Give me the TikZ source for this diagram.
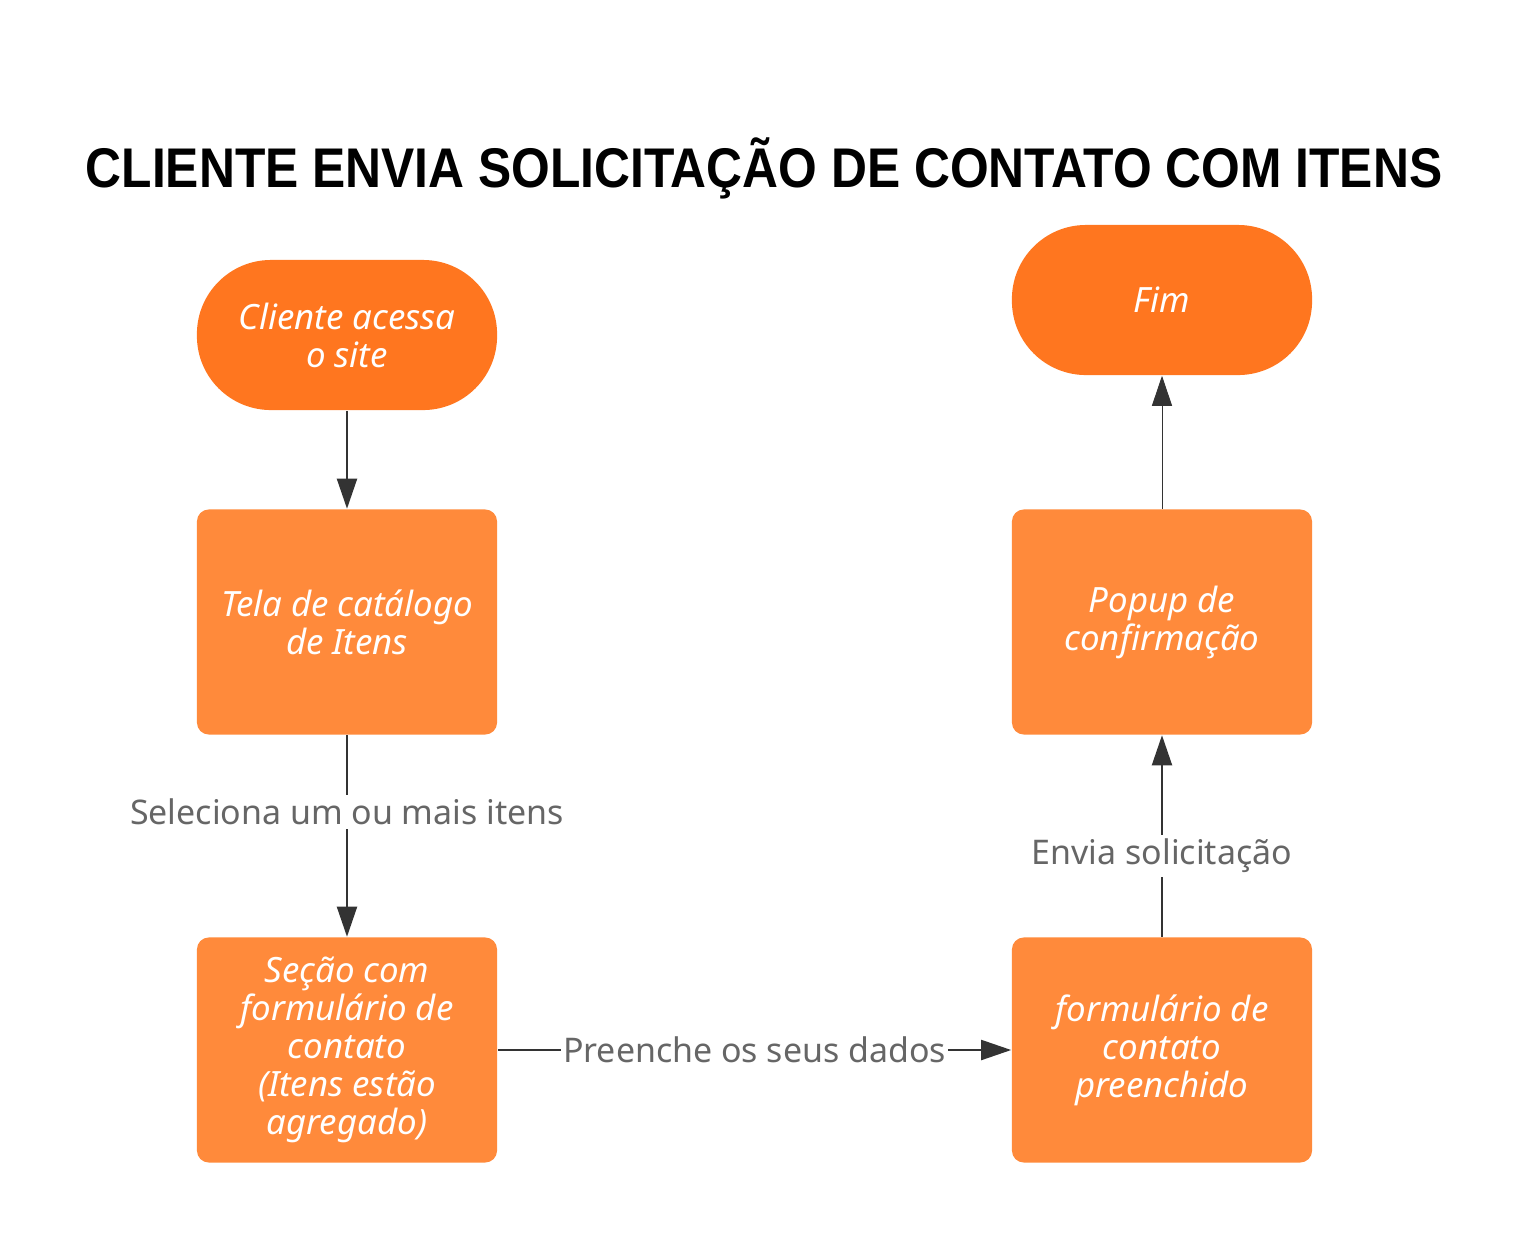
\documentclass[tikz,border=0pt]{standalone}
\usepackage{fontspec}
\setmainfont{Noto Sans}
\newfontfamily\titlefont{Liberation Sans}
\usetikzlibrary{arrows.meta}
\definecolor{termorange}{HTML}{FF761F}
\definecolor{boxorange}{HTML}{FF8A3B}
\definecolor{linegray}{HTML}{333333}
\definecolor{labelgray}{HTML}{666666}
\begin{document}
\begin{tikzpicture}[x = 0.01cm, y = -0.01cm]
\tikzstyle{TerminalStyle}=[
shape = rectangle,
fill = termorange,
rounded corners = 0.74cm,
minimum width = 3cm,
minimum height = 1.5cm,
align = center,
text = white,
font = \itshape\fontsize{9.9}{10.8}\selectfont]
\tikzstyle{StepStyle}=[
shape = rectangle,
fill = boxorange,
rounded corners = 0.12cm,
minimum width = 3cm,
minimum height = 2.25cm,
align = center,
text = white,
font = \itshape\fontsize{9.9}{10.8}\selectfont]
\tikzstyle{post}=[
draw = linegray,
line width = 0.2mm,
-{Triangle[length = 0.3cm, width = 0.2cm]}]
\tikzstyle{EdgeLabel}=[
fill = white,
text = labelgray,
inner xsep = 0.2mm,
inner ysep = 0.4mm,
font = \fontsize{9.65}{10.8}\selectfont]
\useasboundingbox (0,0) rectangle (1538,1238);
\node[font = \titlefont\bfseries\fontsize{15.9}{19}\selectfont, xscale = 0.89, transform shape] (title) at (764,168) {CLIENTE ENVIA SOLICITAÇÃO DE CONTATO COM ITENS};
\node[TerminalStyle] (start) at (347,335) {Cliente acessa\\o site};
\node[StepStyle] (catalog) at (347,622) {Tela de catálogo\\de Itens};
\node[StepStyle] (section) at (347,1050) {Seção com\\formulário de\\contato\\(Itens estão\\agregado)};
\node[StepStyle] (filled) at (1162,1050) {formulário de\\contato\\preenchido};
\node[StepStyle] (popup) at (1162,622) {Popup de\\confirmação};
\node[TerminalStyle] (end) at (1162,300) {Fim};
\draw[post] (start) -- (catalog);
\draw[post] (catalog) -- node[EdgeLabel, pos = 0.38] {Seleciona um ou mais itens} (section);
\draw[post] (section) -- node[EdgeLabel, pos = 0.5] {Preenche os seus dados} (filled);
\draw[post] (filled) -- node[EdgeLabel, pos = 0.4] {Envia solicitação} (popup);
\draw[post, line width = 0.1mm] (popup) -- (end);
\end{tikzpicture}
\end{document}
